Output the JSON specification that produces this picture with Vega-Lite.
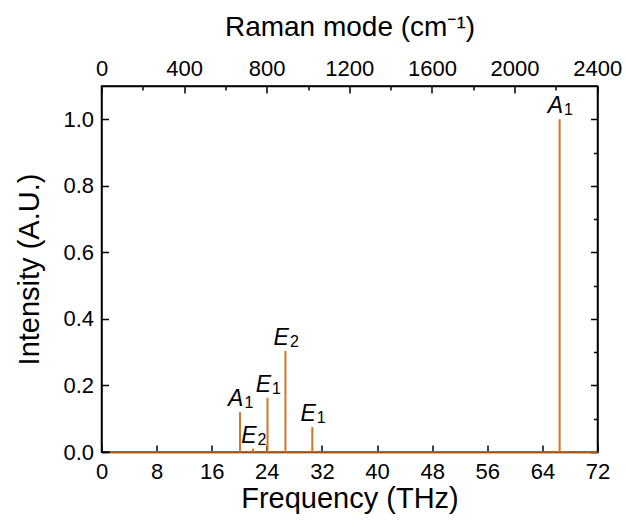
{
  "$schema": "https://vega.github.io/schema/vega-lite/v6.json",
  "width": 496,
  "height": 366,
  "autosize": {"type": "none"},
  "padding": {"left": 101.5, "top": 86, "right": 28.5, "bottom": 75},
  "config": {
    "view": {"stroke": "black", "strokeWidth": 1.5},
    "font": "Liberation Sans",
    "axis": {
      "domainColor": "black", "domainWidth": 1.5,
      "tickColor": "black", "tickWidth": 1.5,
      "labelColor": "black", "titleColor": "black",
      "labelFont": "Liberation Sans", "titleFont": "Liberation Sans",
      "labelFontSize": 22, "titleFontSize": 29, "titleFontWeight": "normal",
      "labelFlush": false,
      "grid": false
    }
  },
  "datasets": {
    "peaks": [
      {"f": 20.1, "I": 0.12, "base": 0, "letter": "A", "sub": "1"},
      {"f": 22.0, "I": 0.01, "base": 0, "letter": "E", "sub": "2"},
      {"f": 24.1, "I": 0.163, "base": 0, "letter": "E", "sub": "1"},
      {"f": 26.7, "I": 0.304, "base": 0, "letter": "E", "sub": "2"},
      {"f": 30.6, "I": 0.075, "base": 0, "letter": "E", "sub": "1"},
      {"f": 66.5, "I": 1.0, "base": 0, "letter": "A", "sub": "1"}
    ],
    "baseline": [{"from": 1.2, "to": 72, "level": 0}],
    "dummy": [{"cm": 0, "v": 0}]
  },
  "layer": [
    {
      "layer": [
        {
          "data": {"name": "baseline"},
          "mark": {"type": "rule", "color": "#D8731F", "strokeWidth": 1.5},
          "encoding": {
            "x": {"field": "from", "type": "quantitative", "title": "Frequency (THz)",
              "scale": {"domain": [0, 72], "nice": false},
              "axis": {
                "orient": "bottom",
                "values": [0,4,8,12,16,20,24,28,32,36,40,44,48,52,56,60,64,68,72],
                "labelExpr": "datum.value % 8 === 0 ? datum.label : ''",
                "labelFontSize": 22,
                "labelFlush": false,
                "tickSize": {"condition": {"test": "datum.value % 8 === 0", "value": -7}, "value": -4},
                "labelPadding": 16,
                "titlePadding": 2
              }},
            "x2": {"field": "to"},
            "y": {"field": "level", "type": "quantitative", "title": "Intensity (A.U.)",
              "scale": {"domain": [0, 1.1], "nice": false},
              "axis": {
                "orient": "left",
                "values": [0,0.1,0.2,0.3,0.4,0.5,0.6,0.7,0.8,0.9,1.0],
                "format": ".1f",
                "labelExpr": "round(datum.value*10) % 2 === 0 ? datum.label : ''",
                "labelFontSize": 22,
                "tickSize": {"condition": {"test": "round(datum.value*10) % 2 === 0", "value": -7}, "value": -4},
                "labelPadding": 15,
                "titlePadding": 18
              }}
          }
        },
        {
          "data": {"name": "peaks"},
          "mark": {"type": "rule", "color": "#D8731F", "strokeWidth": 2},
          "encoding": {
            "x": {"field": "f", "type": "quantitative", "title": "Frequency (THz)"},
            "y": {"field": "I", "type": "quantitative", "title": "Intensity (A.U.)"},
            "y2": {"field": "base"}
          }
        },
        {
          "data": {"name": "peaks"},
          "mark": {"type": "text", "fontStyle": "italic", "fontSize": 23, "align": "right", "baseline": "alphabetic", "dx": 3.5, "dy": -6, "color": "black"},
          "encoding": {
            "x": {"field": "f", "type": "quantitative", "title": "Frequency (THz)"},
            "y": {"field": "I", "type": "quantitative", "title": "Intensity (A.U.)"},
            "text": {"field": "letter"}
          }
        },
        {
          "data": {"name": "peaks"},
          "mark": {"type": "text", "fontSize": 16, "align": "left", "baseline": "alphabetic", "dx": 4.5, "dy": -4, "color": "black"},
          "encoding": {
            "x": {"field": "f", "type": "quantitative", "title": "Frequency (THz)"},
            "y": {"field": "I", "type": "quantitative", "title": "Intensity (A.U.)"},
            "text": {"field": "sub"}
          }
        }
      ]
    },
    {
      "data": {"name": "dummy"},
      "mark": {"type": "point", "opacity": 0},
      "encoding": {
        "x": {"field": "cm", "type": "quantitative", "title": "Raman mode (cm⁻¹)",
          "scale": {"domain": [0, 2401.7], "nice": false},
          "axis": {
            "orient": "top",
            "values": [0,200,400,600,800,1000,1200,1400,1600,1800,2000,2200,2400],
            "format": "d",
            "labelExpr": "datum.value % 400 === 0 ? datum.label : ''",
            "labelFontSize": 22,
            "labelFlush": false,
            "tickSize": {"condition": {"test": "datum.value % 400 === 0", "value": -7}, "value": -4},
            "labelPadding": 13,
            "titleFontSize": 28,
            "titlePadding": 16
          }},
        "y": {"field": "v", "type": "quantitative", "scale": {"domain": [0, 1.1], "nice": false}, "axis": null}
      }
    },
    {
      "data": {"name": "dummy"},
      "mark": {"type": "point", "opacity": 0},
      "encoding": {
        "x": {"field": "cm", "type": "quantitative", "scale": {"domain": [0, 72], "nice": false}, "axis": null},
        "y": {"field": "v", "type": "quantitative", "title": "",
          "scale": {"domain": [0, 1.1], "nice": false},
          "axis": {
            "orient": "right",
            "values": [0,0.1,0.2,0.3,0.4,0.5,0.6,0.7,0.8,0.9,1.0],
            "labels": false,
            "tickSize": {"condition": {"test": "round(datum.value*10) % 2 === 0", "value": -7}, "value": -4}
          }}
      }
    }
  ],
  "resolve": {"scale": {"x": "independent", "y": "independent"}}
}
